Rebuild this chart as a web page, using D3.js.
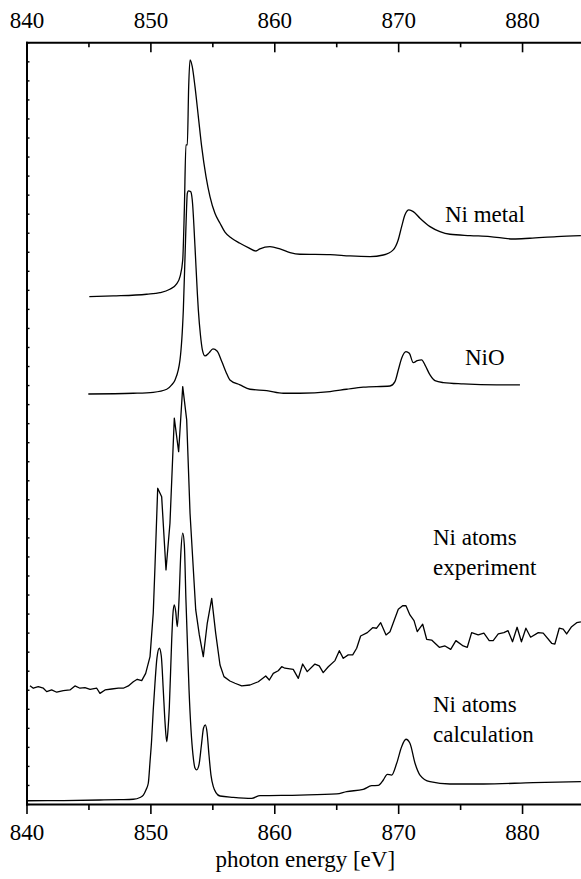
<!DOCTYPE html>
<html><head><meta charset="utf-8">
<script src="https://cdn.jsdelivr.net/npm/d3@7"></script>
<style>
html,body{margin:0;padding:0;background:#fff;}
svg{display:block;}
</style></head><body>
<svg id="chart" width="581" height="879"></svg>
<script>
// ---------- data ----------
const xTicksMajor = [840, 850, 860, 870, 880];
const xTicksMinor = [845, 855, 865, 875, 885];
const yTicks = [0,1,2,3,4,5,6,7,8,9,10,11,12,13,14,15,16,17,18,19,20,21,22,23,24,25,26,27,28,29,30,31,32,33,34,35,36,37,38,39,40];
const xLabel = "photon energy [eV]";
const seriesNames = ["Ni metal", "NiO", "Ni atoms experiment", "Ni atoms calculation"];

const metalE = [845.07,847.0,849.7,850.77,851.57,852.12,852.39,852.61,852.74,852.87,852.98,853.09,853.2,853.38,853.6,853.87,854.14,854.49,854.81,855.21,855.62,856.02,856.56,857.23,857.9,858.52,858.84,859.65,860.46,861.27,862.07,864.5,866.11,867.73,868.8,869.6,870.0,870.28,870.55,870.87,871.22,871.76,872.57,873.37,874.18,875.8,877.41,879.29,880.63,882.8,884.75];
const metalI = [26.64,26.68,26.77,26.85,27.03,27.31,27.69,28.57,31.20,34.61,34.61,37.67,39.08,38.72,37.67,36.10,34.52,32.95,31.90,31.02,30.50,30.03,29.71,29.45,29.22,29.04,29.15,29.27,29.15,28.96,28.87,28.85,28.78,28.75,28.83,29.10,29.62,30.32,30.94,31.20,31.11,30.76,30.32,30.06,29.92,29.85,29.80,29.67,29.71,29.80,29.85];

const nioE = [844.99,848.62,850.23,851.32,851.72,851.99,852.39,852.66,852.87,852.98,853.06,853.25,853.38,853.6,853.79,853.87,854.04,854.2,854.41,854.73,855.05,855.38,855.78,856.1,856.42,857.23,858.04,859.39,860.73,862.07,864.5,865.84,867.18,869.34,869.74,870.01,870.28,870.63,870.9,871.22,871.54,871.9,872.16,872.57,872.97,873.64,875.25,877.95,879.83];
const nioI = [21.53,21.57,21.62,21.78,22.01,22.27,23.32,25.95,30.32,32.07,32.20,32.16,31.72,29.27,26.82,25.95,24.63,23.84,23.53,23.69,23.90,23.79,23.21,22.69,22.27,22.01,21.78,21.71,21.57,21.57,21.66,21.78,21.89,21.95,22.18,22.79,23.41,23.76,23.67,23.18,23.28,23.32,23.06,22.53,22.23,22.13,22.06,22.01,22.01];

const expE = [840.28,840.55,840.95,841.36,841.63,842.03,842.44,842.97,843.51,843.91,844.32,844.72,845.13,845.67,845.93,846.34,846.88,847.41,847.81,848.22,848.62,848.94,849.3,849.62,849.97,850.23,850.37,850.59,850.91,851.26,851.58,851.93,852.28,852.61,852.93,853.2,853.66,853.95,854.27,854.59,854.95,855.27,855.62,855.94,856.42,856.83,857.37,858.04,858.71,859.31,859.6,859.92,860.32,860.6,860.86,861.53,861.94,862.29,862.66,863.28,863.63,863.95,864.36,864.9,865.25,865.57,865.97,866.33,866.65,866.97,867.51,867.94,868.26,868.59,869.02,869.34,869.74,870.01,870.36,870.63,870.95,871.28,871.54,871.98,872.3,872.7,873.32,873.78,874.24,874.66,875.25,875.58,875.93,876.46,876.92,877.35,877.67,878.08,878.53,878.87,879.23,879.6,879.95,880.31,880.69,881.31,881.71,882.39,882.65,883.0,883.32,883.6,884.0,884.41,884.75];
const expI = [6.21,6.08,6.16,6.08,5.90,5.99,5.87,5.95,5.99,6.20,6.08,6.11,6.02,6.08,5.81,5.99,6.04,6.08,6.08,6.20,6.42,6.55,6.48,6.86,7.74,10.02,12.46,16.58,16.14,12.29,14.74,20.26,18.50,21.92,20.17,15.27,10.19,8.88,7.74,9.49,10.80,8.97,7.30,6.69,6.46,6.34,6.20,6.25,6.42,6.72,6.51,6.86,7.00,7.21,7.13,7.07,6.60,7.35,6.95,7.35,7.25,6.90,7.21,7.53,8.05,7.65,7.83,7.83,8.18,8.82,9.00,9.26,9.23,9.52,8.88,9.05,9.75,10.23,10.41,10.41,9.93,9.63,9.05,9.44,8.65,8.61,8.23,8.30,8.12,8.58,8.30,8.23,9.00,8.88,8.97,8.58,8.58,8.93,9.00,9.10,8.52,9.28,8.52,9.23,8.76,9.00,8.97,8.44,8.40,9.23,9.18,8.93,9.31,9.52,9.57];

const calcE = [840.12,842.7,845.93,847.55,848.62,849.16,849.43,849.64,849.83,849.97,850.1,850.23,850.37,850.53,850.72,850.88,851.04,851.18,851.32,851.42,851.53,851.72,851.82,851.93,852.05,852.17,852.31,852.45,852.61,852.74,852.87,852.98,853.12,853.28,853.44,853.6,853.74,853.92,854.12,854.29,854.43,854.57,854.73,854.89,855.08,855.29,855.62,856.69,858.18,858.85,862.07,865.04,865.84,867.18,867.86,868.39,868.8,869.12,869.47,869.88,870.28,870.63,870.95,871.36,871.76,872.57,874.18,876.87,880.9,884.75];
const calcI = [0.17,0.18,0.21,0.23,0.25,0.34,0.47,0.74,1.09,2.21,3.36,4.94,6.34,7.67,8.18,7.77,5.99,4.31,3.27,3.89,5.11,8.61,9.98,10.45,10.08,9.31,10.71,13.08,14.22,13.60,10.71,8.61,5.99,3.89,2.57,1.89,1.79,2.05,3.10,3.99,4.15,3.78,2.57,1.52,0.91,0.60,0.42,0.35,0.30,0.44,0.47,0.53,0.65,0.77,0.96,0.98,1.26,1.56,1.52,2.14,3.01,3.40,3.19,2.14,1.52,1.17,1.05,1.05,1.12,1.17];

// ---------- layout ----------
const svg = d3.select("#chart");
const FONT = "'Liberation Serif'";
const FS = "23px";
const plotLeft = 26.5, plotRight = 584, plotTop = 42.3, plotBottom = 804;

const xScale = d3.scaleLinear().domain([840, 885]).range([plotLeft, plotRight]);
const yScale = d3.scaleLinear().domain([0, 40]).range([plotBottom, plotTop]);

function styleAxis(g, sw) {
  g.attr("font-family", null).attr("font-size", null);
  g.selectAll(".domain").attr("stroke", "#000").attr("stroke-width", 2).attr("stroke-linecap", "square");
  g.selectAll(".tick line").attr("stroke", "#000").attr("stroke-width", sw);
  g.selectAll(".tick text").attr("fill", "#000").style("font-family", FONT).style("font-size", FS);
}

// top axis
const gTop = svg.append("g").attr("transform", `translate(0,${plotTop})`)
  .call(d3.axisTop(xScale).tickValues(xTicksMajor).tickSizeInner(-10).tickSizeOuter(0).tickPadding(14).tickFormat(d3.format("d")));
styleAxis(gTop, 1.6);
const gTopMinor = svg.append("g").attr("transform", `translate(0,${plotTop})`)
  .call(d3.axisTop(xScale).tickValues(xTicksMinor).tickSizeInner(-5).tickSizeOuter(0).tickFormat(""));
gTopMinor.select(".domain").remove();
styleAxis(gTopMinor, 1.6);

// bottom axis
const gBot = svg.append("g").attr("transform", `translate(0,${plotBottom})`)
  .call(d3.axisBottom(xScale).tickValues(xTicksMajor).tickSizeInner(10).tickSizeOuter(0).tickPadding(9.5).tickFormat(d3.format("d")));
styleAxis(gBot, 1.6);
const gBotMinor = svg.append("g").attr("transform", `translate(0,${plotBottom})`)
  .call(d3.axisBottom(xScale).tickValues(xTicksMinor).tickSizeInner(6).tickSizeOuter(0).tickFormat(""));
gBotMinor.select(".domain").remove();
styleAxis(gBotMinor, 1.6);

// left axis
const gLeft = svg.append("g").attr("transform", `translate(${plotLeft},0)`)
  .call(d3.axisLeft(yScale).tickValues(yTicks).tickSizeInner(-3).tickSizeOuter(0).tickFormat(""));
styleAxis(gLeft, 1.4);

// axis title (centred on the axis)
svg.append("text").attr("x", (plotLeft + plotRight) / 2).attr("y", 867).attr("text-anchor", "middle")
  .style("font-family", FONT).style("font-size", FS).attr("fill", "#000").text(xLabel);

// ---------- curves ----------
function pts(E, I) { return E.map((e, i) => [e, I[i]]); }
const smooth = d3.line().x(d => xScale(d[0])).y(d => yScale(d[1])).curve(d3.curveMonotoneX);
const jagged = d3.line().x(d => xScale(d[0])).y(d => yScale(d[1])).curve(d3.curveLinear);

const curves = [
  {data: pts(metalE, metalI), gen: smooth},
  {data: pts(nioE, nioI), gen: smooth},
  {data: pts(expE, expI), gen: jagged},
  {data: pts(calcE, calcI), gen: smooth}
];
svg.append("g").selectAll("path").data(curves).join("path")
  .attr("d", d => d.gen(d.data))
  .attr("fill", "none").attr("stroke", "#000").attr("stroke-width", 1.3)
  .attr("stroke-linejoin", "round");

// ---------- labels ----------
const labels = [
  {lines: ["Ni metal"], e: 873.78, base: 221.7},
  {lines: ["NiO"], e: 875.39, base: 365},
  {lines: ["Ni atoms", "experiment"], e: 872.81, base: 545},
  {lines: ["Ni atoms", "calculation"], e: 872.81, base: 712}
];
labels.forEach(l => {
  l.lines.forEach((t, i) => {
    svg.append("text").attr("x", xScale(l.e)).attr("y", l.base + i * 30)
      .style("font-family", FONT).style("font-size", FS).attr("fill", "#000").text(t);
  });
});
</script>
</body></html>
